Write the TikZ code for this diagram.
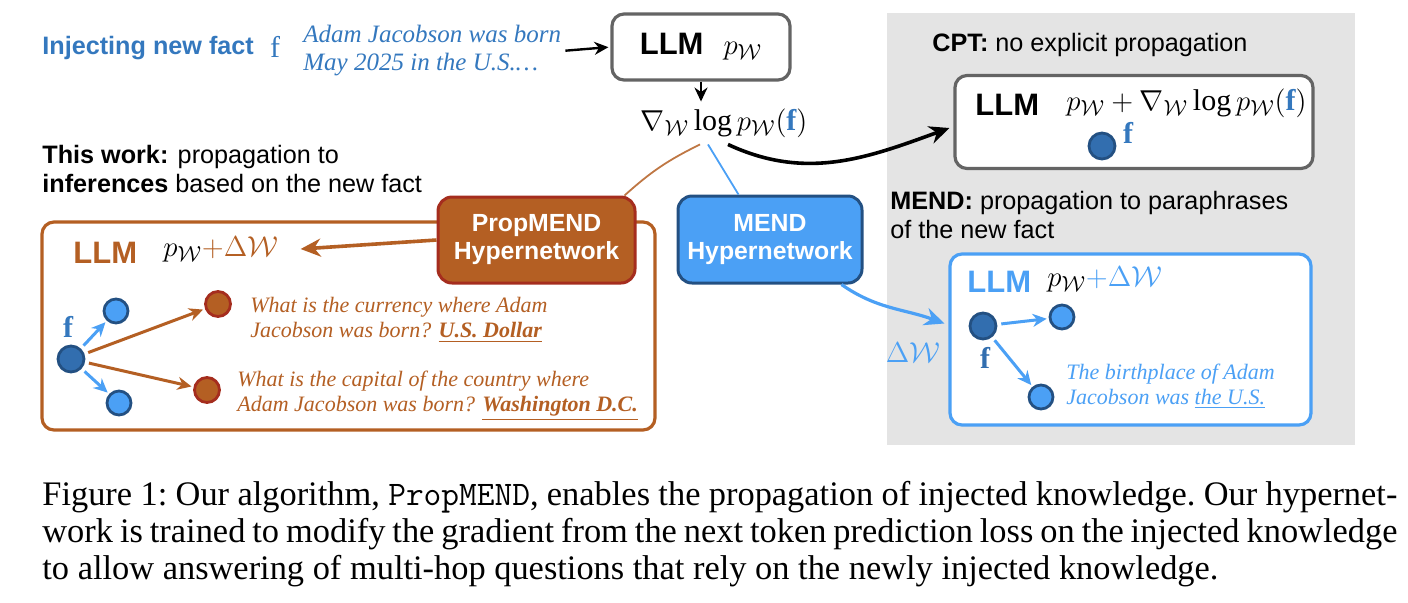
\documentclass[tikz,border=0pt]{standalone}
\usepackage{fontspec}
\setmainfont{Liberation Serif}
\setsansfont{Liberation Sans}
\usetikzlibrary{arrows.meta,positioning,calc}
\definecolor{factblue}{RGB}{52,120,190}
\definecolor{rust}{RGB}{180,95,35}
\definecolor{rustedge}{RGB}{165,45,30}
\definecolor{sky}{RGB}{75,160,245}
\definecolor{navy}{RGB}{35,80,130}
\definecolor{dotblue}{RGB}{50,110,175}
\definecolor{slate}{RGB}{100,100,100}
\definecolor{panel}{RGB}{228,228,228}
\newcommand\lblsize{\fontsize{12.6}{14.5}\selectfont}
\newcommand\llmsize{\fontsize{15.5}{17}\selectfont}
\newcommand\mathsize{\fontsize{15}{17}\selectfont}
\newcommand\qsize{\fontsize{11}{12.5}\selectfont}
\newcommand\capline[1]{\makebox[677.5pt][s]{#1}}
\tikzset{
  >={Stealth[length=7pt,width=6.5pt]},
  lbl/.style={font=\sffamily\lblsize,align=left,inner sep=0pt},
  llm/.style={draw=#1,line width=1.6pt,rounded corners=6pt,fill=white},
  llm/.default=slate,
  llmtxt/.style={font=\sffamily\bfseries\llmsize,text=#1,inner sep=0pt},
  llmtxt/.default=black,
  hyper/.style={fill=#1,text=white,rounded corners=7pt,line width=1.5pt,
    align=center,font=\sffamily\bfseries\fontsize{12.4}{14}\selectfont},
  fdot/.style={circle,draw=navy,fill=dotblue,line width=1.4pt,minimum size=13pt,inner sep=0pt},
  ldot/.style={circle,draw=navy,fill=sky,line width=1.4pt,minimum size=12pt,inner sep=0pt},
  odot/.style={circle,draw=rustedge,fill=rust,line width=1.4pt,minimum size=12.5pt,inner sep=0pt},
  quote/.style={font=\itshape\qsize,text=#1,align=left,inner sep=0pt},
  ftxt/.style={text=#1,font=\fontsize{15}{17}\selectfont,inner sep=0pt},
  flow/.style={->,line width=1.5pt,draw=#1,shorten <=2pt,shorten >=1pt},
  flow/.default=black,
}

\begin{document}
\begin{tikzpicture}[x=0.5pt,y=-0.5pt]
  \useasboundingbox (0,0) rectangle (1408,602);
  \fill[panel] (887,13) rectangle (1355,445);

  % new fact and gradient
  \node[lbl,anchor=west,text=factblue] (inj) at (42,48) {\bfseries Injecting new fact};
  \node[ftxt=factblue] (injf) at (275,47) {f};
  \node[quote=factblue,font=\itshape\fontsize{12.5}{14}\selectfont,anchor=west] (fact) at (303,51) {Adam Jacobson was born\\May 2025 in the U.S.\ldots};
  \node[llm,minimum width=89pt,minimum height=33pt,font=\llmsize] (top) at (701,47) {\textsf{\bfseries LLM}\hspace{10pt}$p_{\mathcal W}$};
  \draw[flow,line width=1.2pt] (fact.east) -- (top.west);
  \node[font=\mathsize] (grad) at (724,123) {$\nabla_{\mathcal W}\log p_{\mathcal W}(\textcolor{factblue}{\mathbf f})$};
  \draw[->,line width=1.2pt] (top.south) -- (top.south |- grad.north);

  % CPT
  \node[lbl,anchor=west] (cptlbl) at (932,45) {\textbf{CPT:} no explicit propagation};
  \node[llm,minimum width=179pt,minimum height=46.5pt] (cpt) at (1134,122) {};
  \node[llmtxt,anchor=west] (cptllm) at (975,105) {LLM};
  \node[anchor=west,inner sep=0pt,font=\mathsize] (cptmath) at (1066,103) {$p_{\mathcal W}+\nabla_{\mathcal W}\log p_{\mathcal W}(\textcolor{factblue}{\mathbf f})$};
  \node[fdot] (cptdot) at (1102,146) {};
  \node[ftxt=factblue] (cptf) at (1128,133) {$\mathbf f$};
  \draw[->,line width=1.8pt,>={Stealth[length=10pt,width=9pt]}] ([xshift=2pt]grad.south) to[out=-25,in=200] ([xshift=-2pt,yshift=-3pt]cpt.west);

  % this work
  \node[lbl,anchor=west] (work) at (42,169) {\textbf{This work:} propagation to\\\textbf{inferences} based on the new fact};
  \node[llm=rust,minimum width=306.5pt,minimum height=104pt] (ours) at (348.5,326) {};
  \node[hyper=rust,draw=rustedge,minimum width=98.5pt,minimum height=43pt] (prop) at (536.5,240) {PropMEND\\Hypernetwork};
  \node[llmtxt=rust,anchor=west] (oursllm) at (73,253) {LLM};
  \node[anchor=west,inner sep=0pt,font=\mathsize] (oursmath) at (163,249) {$p_{\mathcal W}\textcolor{rust}{+\Delta\mathcal W}$};
  \draw[->,rust,line width=1.8pt,>={Stealth[length=10pt,width=9pt]}] (prop.west) -- ([xshift=11pt]oursmath.east);
  \node[fdot] (of) at (71,359) {};
  \node[ldot] (oa) at (116,311) {};
  \node[ldot] (ob) at (119,403) {};
  \node[odot] (oq1) at (218,304) {};
  \node[odot] (oq2) at (207,390) {};
  \node[ftxt=factblue] (oursf) at (68,327) {$\mathbf f$};
  \draw[flow=sky] (of) -- (oa);
  \draw[flow=sky] (of) -- (ob);
  \draw[flow=rust] (of) -- (oq1);
  \draw[flow=rust] (of) -- (oq2);
  \node[quote=rust,anchor=west] (q1) at (250,320) {What is the currency where Adam\\Jacobson was born? \underline{\textbf{U.S. Dollar}}};
  \node[quote=rust,anchor=west] (q2) at (237,396) {What is the capital of the country where\\Adam Jacobson was born? \underline{\textbf{Washington D.C.}}};

  % MEND
  \node[hyper=sky,draw=navy,minimum width=92pt,minimum height=43.5pt] (mend) at (770,239.5) {MEND\\Hypernetwork};
  \draw[rust!85,line width=0.9pt] ([xshift=-12pt]grad.south) to[bend right=8] ([xshift=-6pt]prop.north east);
  \draw[sky,line width=0.9pt] ([xshift=-8pt]grad.south) -- ($(mend.north west)+(62,0)$);
  \node[lbl,anchor=west] (mendlbl) at (890,215) {\textbf{MEND:} propagation to paraphrases\\of the new fact};
  \node[llm=sky,minimum width=180.5pt,minimum height=85.5pt] (mllm) at (1130.5,339.5) {};
  \node[llmtxt=sky,anchor=west] (mllmtxt) at (967,282) {LLM};
  \node[anchor=west,inner sep=0pt,font=\mathsize] (mmath) at (1047,279) {$p_{\mathcal W}\textcolor{sky}{+\Delta\mathcal W}$};
  \node[fdot] (mf) at (983,326) {};
  \node[ldot] (ma) at (1062,317) {};
  \node[ldot] (mb) at (1041,397) {};
  \node[ftxt=dotblue] (mendf) at (985,358) {$\mathbf f$};
  \draw[flow=sky] (mf) -- (ma);
  \draw[flow=sky] (mf) -- (mb);
  \node[quote=sky,anchor=west] (mq) at (1066,386) {The birthplace of Adam\\Jacobson was \underline{the U.S.}};
  \draw[->,sky,line width=1.6pt,>={Stealth[length=10pt,width=9pt]}] ([xshift=-11pt]mend.south east) to[out=-35,in=160] ([xshift=-2pt,yshift=8pt]mllm.west);
  \node[text=sky,font=\mathsize] (dw) at (913,353) {$\Delta\mathcal W$};

  % caption
  \node[anchor=north west,inner sep=0pt,align=left,font=\fontsize{17.2}{18.5}\selectfont\frenchspacing] (cap) at (42,481) {\capline{Figure 1: Our algorithm, \texttt{PropMEND}, enables the propagation of injected knowledge. Our hypernet-}\\\capline{work is trained to modify the gradient from the next token prediction loss on the injected knowledge}\\to allow answering of multi-hop questions that rely on the newly injected knowledge.};
\end{tikzpicture}
\end{document}
